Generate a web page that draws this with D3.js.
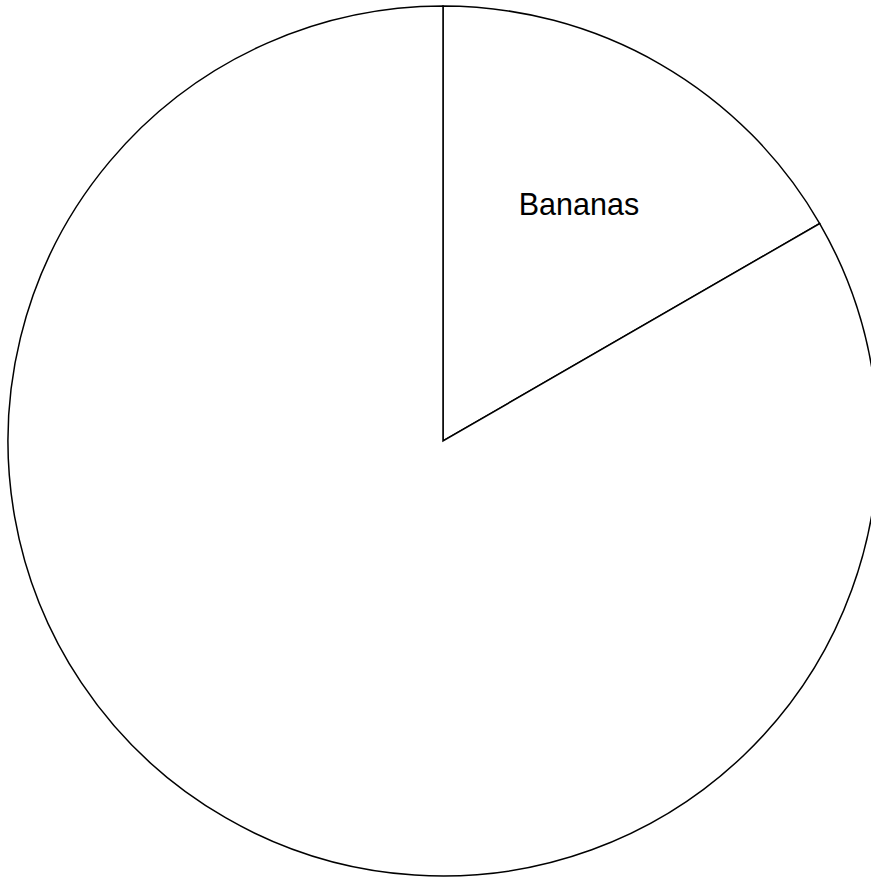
<!DOCTYPE html>
<html>
<head>
<meta charset="utf-8">
<script src="https://cdn.jsdelivr.net/npm/d3@7"></script>
<style>
  html, body { margin: 0; padding: 0; background: #fff; }
  svg { display: block; }
</style>
</head>
<body>
<svg id="chart" width="871" height="880"></svg>
<script>
const categories = ["Bananas", ""];
const values = [1, 5];

const width = 871, height = 880;
const cx = 443, cy = 441, radius = 435;

const svg = d3.select("#chart");
const g = svg.append("g").attr("transform", `translate(${cx},${cy})`);

const data = categories.map((c, i) => ({ label: c, value: values[i] }));
const pie = d3.pie().value(d => d.value).sort(null);
const arc = d3.arc().innerRadius(0).outerRadius(radius);
const labelArc = d3.arc().innerRadius(radius * 0.625).outerRadius(radius * 0.625);

const arcs = pie(data);

g.selectAll("path.slice")
  .data(arcs)
  .join("path")
  .attr("class", "slice")
  .attr("d", arc)
  .attr("fill", "#fff")
  .attr("stroke", "#000")
  .attr("stroke-width", 1.5)
  .attr("stroke-linejoin", "miter");

g.selectAll("text.label")
  .data(arcs.filter(d => d.data.label))
  .join("text")
  .attr("class", "label")
  .attr("transform", d => `translate(${labelArc.centroid(d)})`)
  .attr("text-anchor", "middle")
  .attr("dy", "0.32em")
  .attr("font-family", "Liberation Sans, Arial, sans-serif")
  .attr("font-size", 30.5)
  .attr("fill", "#000")
  .text(d => d.data.label);
</script>
</body>
</html>
